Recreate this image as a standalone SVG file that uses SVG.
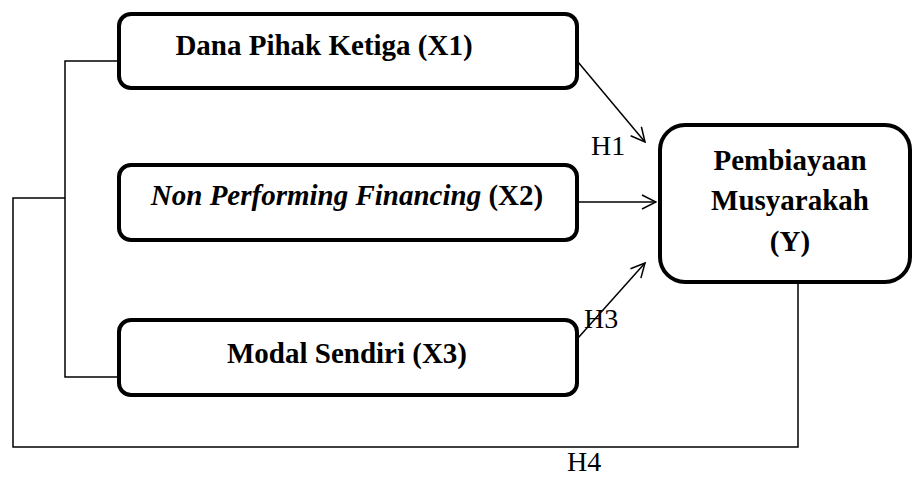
<svg xmlns="http://www.w3.org/2000/svg" width="913" height="479" viewBox="0 0 913 479">
<style>
.box{fill:#fff;stroke:#000;stroke-width:4}
.t{font-family:"Times New Roman","Liberation Serif",Tinos,serif;font-size:29px;font-weight:bold;fill:#000;text-anchor:middle}
.h{font-family:"Times New Roman","Liberation Serif",Tinos,serif;font-size:28px;fill:#000}
.c{fill:none;stroke:#000;stroke-width:1.5}
</style>
<defs>
<marker id="arr" viewBox="0 0 16 16" refX="15" refY="8" markerWidth="16" markerHeight="16" markerUnits="userSpaceOnUse" orient="auto">
<path d="M1,1 L15,8 L1,15" fill="none" stroke="#000" stroke-width="1.5"/>
</marker>
</defs>
<g id="connectors">
<polyline class="c" points="118,61 65,61 65,377 118,377"/>
<polyline class="c" points="65,198 13,198 13,447 798,447 798,282"/>
<line class="c" x1="578" y1="62" x2="645" y2="142" marker-end="url(#arr)"/>
<line class="c" x1="578" y1="202" x2="656" y2="202" marker-end="url(#arr)"/>
<line class="c" x1="578" y1="338" x2="645" y2="263" marker-end="url(#arr)"/>
<text class="h" x="591" y="155" font-size="27">H1</text>
<text class="h" x="584" y="328">H3</text>
<text class="h" x="567" y="471" font-size="28">H4</text>
</g>
<g id="x1">
<rect class="box" x="119" y="14" width="458" height="74" rx="12"/>
<text class="t" x="324" y="55" font-size="25">Dana Pihak Ketiga (X1)</text>
</g>
<g id="x2">
<rect class="box" x="119" y="165" width="458" height="75" rx="12"/>
<text class="t" x="347" y="205"><tspan font-style="italic">Non Performing Financing</tspan> (X2)</text>
</g>
<g id="x3">
<rect class="box" x="119" y="320" width="458" height="75" rx="12"/>
<text class="t" x="347" y="363">Modal Sendiri (X3)</text>
</g>
<g id="y">
<rect class="box" x="660" y="125" width="250" height="157" rx="25"/>
<text class="t" x="790" y="170">Pembiayaan</text>
<text class="t" x="790" y="210">Musyarakah</text>
<text class="t" x="790" y="251">(Y)</text>
</g>
</svg>
